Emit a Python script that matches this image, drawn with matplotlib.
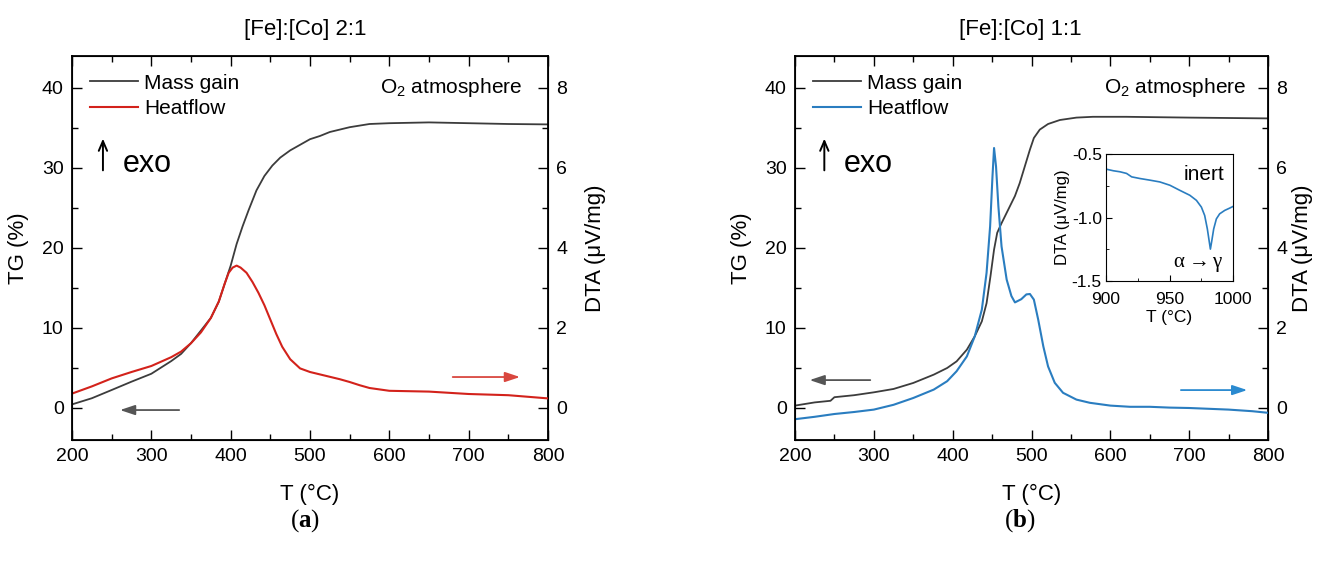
import matplotlib
matplotlib.use("Agg")
import matplotlib.pyplot as plt
from matplotlib.ticker import MultipleLocator, FormatStrFormatter

plt.rcParams['font.family'] = ['Liberation Sans', 'DejaVu Sans']
plt.rcParams['mathtext.fontset'] = 'custom'
plt.rcParams['mathtext.rm'] = 'Liberation Serif'
plt.rcParams['mathtext.bf'] = 'Liberation Serif:bold'
plt.rcParams['mathtext.sf'] = 'Liberation Sans'

# [Fe]:[Co] 2:1 -- mass gain (TG, %) and heat flow (DTA, uV/mg)
T_a = [200, 225, 250, 275, 300, 325, 337.5, 350, 362.5, 375, 385, 392.5,
       400, 407.5, 415, 422.5, 432.5, 442.5, 452.5, 462.5, 475, 487.5, 500,
       512.5, 525, 537.5, 550, 562.5, 575, 600, 650, 700, 750, 800]
tg_a = [0.45, 1.22, 2.25, 3.29, 4.28, 5.86, 6.76, 8.11, 9.68, 11.26, 13.29,
        15.54, 17.79, 20.5, 22.7, 24.7, 27.2, 29.0, 30.3, 31.3, 32.2, 32.9,
        33.6, 34.0, 34.5, 34.8, 35.1, 35.3, 35.5, 35.6, 35.7, 35.6, 35.5, 35.45]

T_a_dta = [200, 225, 250, 275, 300, 325, 337.5, 350, 362.5, 375, 385, 392.5,
           397.5, 402.5, 407.5, 412.5, 420, 427.5, 435, 442.5, 450, 457.5,
           465, 475, 487.5, 500, 512.5, 525, 537.5, 550, 562.5, 575, 600,
           650, 700, 750, 800]
dta_a = [0.36, 0.54, 0.74, 0.90, 1.05, 1.27, 1.41, 1.62, 1.89, 2.25, 2.66,
         3.11, 3.38, 3.51, 3.56, 3.51, 3.38, 3.15, 2.88, 2.57, 2.21, 1.85,
         1.53, 1.22, 0.99, 0.90, 0.84, 0.78, 0.72, 0.65, 0.57, 0.50, 0.43,
         0.41, 0.35, 0.32, 0.24]

# [Fe]:[Co] 1:1
T_b = [200, 225, 245, 250, 275, 300, 325, 350, 376, 393, 405, 418, 428,
       437, 443, 448, 452.5, 456.5, 462, 470.5, 479, 485, 491.5, 498, 503,
       510.5, 521, 536, 557, 578, 620, 700, 800]
tg_b = [0.3, 0.7, 0.9, 1.35, 1.6, 1.96, 2.38, 3.13, 4.17, 5.0, 5.83, 7.29,
        8.96, 10.83, 13.1, 16.5, 19.8, 21.9, 23.1, 24.8, 26.5, 28.1, 30.2,
        32.3, 33.75, 34.8, 35.5, 36.0, 36.3, 36.4, 36.4, 36.3, 36.2]

T_b_dta = [200, 225, 250, 275, 300, 325, 350, 376, 393, 405, 418, 428, 437,
           443, 447.5, 450.5, 452.5, 455, 458, 462, 468.5, 474.5, 479, 487,
           493.5, 498, 503, 508.5, 515, 521, 529.5, 540, 557, 574, 600, 625,
           650, 675, 700, 750, 780, 800]
dta_b = [-0.28, -0.22, -0.15, -0.10, -0.04, 0.08, 0.25, 0.46, 0.67, 0.92,
         1.29, 1.79, 2.46, 3.38, 4.54, 5.79, 6.50, 6.04, 5.04, 4.04, 3.21,
         2.80, 2.64, 2.72, 2.84, 2.85, 2.71, 2.21, 1.54, 1.04, 0.63, 0.38,
         0.21, 0.13, 0.06, 0.03, 0.03, 0.01, 0.0, -0.04, -0.08, -0.12]

# inset: inert atmosphere, alpha -> gamma transition
T_in = [900, 905.8, 911, 916.2, 920.2, 926.7, 934.6, 942.4, 950.3, 958.1,
        966, 971.2, 975.1, 977.7, 979.8, 981.2, 982.2, 983.2, 984.8, 986.9,
        989.5, 993.5, 997.4, 1000]
dta_in = [-0.619, -0.632, -0.640, -0.653, -0.680, -0.693, -0.706, -0.720,
          -0.746, -0.786, -0.825, -0.865, -0.918, -0.984, -1.090, -1.183,
          -1.249, -1.19, -1.090, -1.011, -0.971, -0.944, -0.926, -0.913]

mass_col = '#3c3c3c'
red_col = '#d3221b'
blue_col = '#2a7dc0'

W, H = 1317, 563
fig = plt.figure(figsize=(W / 100, H / 100), dpi=100)


def px_box(x0, x1, y0, y1):
    return [x0 / W, 1 - y1 / H, (x1 - x0) / W, (y1 - y0) / H]


def style_axis(ax, ax2, right_pad):
    ax.set_xlim(200, 800)
    ax.set_ylim(-4, 44)
    ax2.set_ylim(-0.8, 8.8)
    ax.xaxis.set_major_locator(MultipleLocator(100))
    ax.xaxis.set_minor_locator(MultipleLocator(50))
    ax.yaxis.set_major_locator(MultipleLocator(10))
    ax.yaxis.set_minor_locator(MultipleLocator(5))
    ax2.yaxis.set_major_locator(MultipleLocator(2))
    ax2.yaxis.set_minor_locator(MultipleLocator(1))
    for a in (ax, ax2):
        a.tick_params(which='both', direction='in', labelsize=14, width=1.0,
                      pad=6)
        a.tick_params(which='major', length=7)
        a.tick_params(which='minor', length=4)
    ax.tick_params(which='both', top=True)
    for sp in ax.spines.values():
        sp.set_linewidth(1.3)
    ax.set_xlabel('T (°C)', fontsize=16, labelpad=13)
    ax.set_ylabel('TG (%)', fontsize=16, labelpad=9)
    ax2.set_ylabel('DTA (μV/mg)', fontsize=16, labelpad=right_pad)


def side_arrow(ax, x0, x1, y, col):
    ax.annotate('', xy=(x1, y), xytext=(x0, y), xycoords='axes fraction',
                arrowprops=dict(arrowstyle='-|>,head_length=0.9,head_width=0.3',
                                color=col, lw=1.3))


def labels(ax, l1, l2, o2_x, exo_x):
    ax.legend([l1, l2], ['Mass gain', 'Heatflow'], loc='upper left',
              bbox_to_anchor=(0.0, 1.0), frameon=False, fontsize=15,
              handlelength=2.3, handletextpad=0.3, labelspacing=0.3,
              borderaxespad=0.45)
    ax.text(o2_x, 0.919, r'O$_\mathsf{2}$ atmosphere', transform=ax.transAxes,
            ha='right', va='center', fontsize=15)
    ax.annotate('', xy=(exo_x, 0.792), xytext=(exo_x, 0.695),
                xycoords='axes fraction',
                arrowprops=dict(arrowstyle='->,head_length=0.7,head_width=0.3',
                                color='black', lw=1.4))
    ax.text(exo_x + 0.042, 0.719, 'exo', transform=ax.transAxes, fontsize=22,
            ha='left', va='center')


# panel (a)
axA = fig.add_axes(px_box(72, 548, 56, 440))
axA2 = axA.twinx()
lA1, = axA.plot(T_a, tg_a, color=mass_col, lw=1.3)
lA2, = axA2.plot(T_a_dta, dta_a, color=red_col, lw=1.5)
style_axis(axA, axA2, 13)
labels(axA, lA1, lA2, 0.945, 0.065)
side_arrow(axA, 0.231, 0.095, 0.078, '#555555')
side_arrow(axA, 0.794, 0.947, 0.164, '#d9473f')

# panel (b)
axB = fig.add_axes(px_box(795, 1268, 56, 440))
axB2 = axB.twinx()
lB1, = axB.plot(T_b, tg_b, color=mass_col, lw=1.3)
lB2, = axB2.plot(T_b_dta, dta_b, color=blue_col, lw=1.5)
style_axis(axB, axB2, 3)
labels(axB, lB1, lB2, 0.955, 0.062)
side_arrow(axB, 0.165, 0.025, 0.156, '#555555')
side_arrow(axB, 0.81, 0.962, 0.130, '#2a8ad0')

# inset in panel (b)
axI = fig.add_axes(px_box(1106, 1233, 154, 281))
axI.plot(T_in, dta_in, color=blue_col, lw=1.2)
axI.set_xlim(900, 1000)
axI.set_ylim(-1.5, -0.5)
axI.xaxis.set_major_locator(MultipleLocator(50))
axI.xaxis.set_minor_locator(MultipleLocator(25))
axI.yaxis.set_major_locator(MultipleLocator(0.5))
axI.yaxis.set_minor_locator(MultipleLocator(0.25))
axI.yaxis.set_major_formatter(FormatStrFormatter('%.1f'))
axI.tick_params(which='both', direction='in', labelsize=12.5)
axI.tick_params(axis='x', pad=8)
axI.tick_params(axis='y', pad=3)
axI.tick_params(which='major', length=4)
axI.tick_params(which='minor', length=2.5)
axI.set_xlabel('T (°C)', fontsize=12.5, labelpad=2)
axI.set_ylabel('DTA (μV/mg)', fontsize=12, labelpad=1)
axI.text(0.93, 0.84, 'inert', transform=axI.transAxes, ha='right',
         va='center', fontsize=15)
axI.text(0.93, 0.13, r'$\mathrm{\alpha \rightarrow \gamma}$',
         transform=axI.transAxes, ha='right', va='center', fontsize=15)

# titles and panel tags
fig.text(305 / W, 1 - 29 / H, '[Fe]:[Co] 2:1', ha='center', va='center',
         fontsize=16)
fig.text(1020 / W, 1 - 29 / H, '[Fe]:[Co] 1:1', ha='center', va='center',
         fontsize=16)
fig.text(305 / W, 1 - 521 / H, r'$(\mathbf{a})$', ha='center', va='center',
         fontsize=18)
fig.text(1020 / W, 1 - 521 / H, r'$(\mathbf{b})$', ha='center', va='center',
         fontsize=18)

fig.savefig('out.png', dpi=100)
